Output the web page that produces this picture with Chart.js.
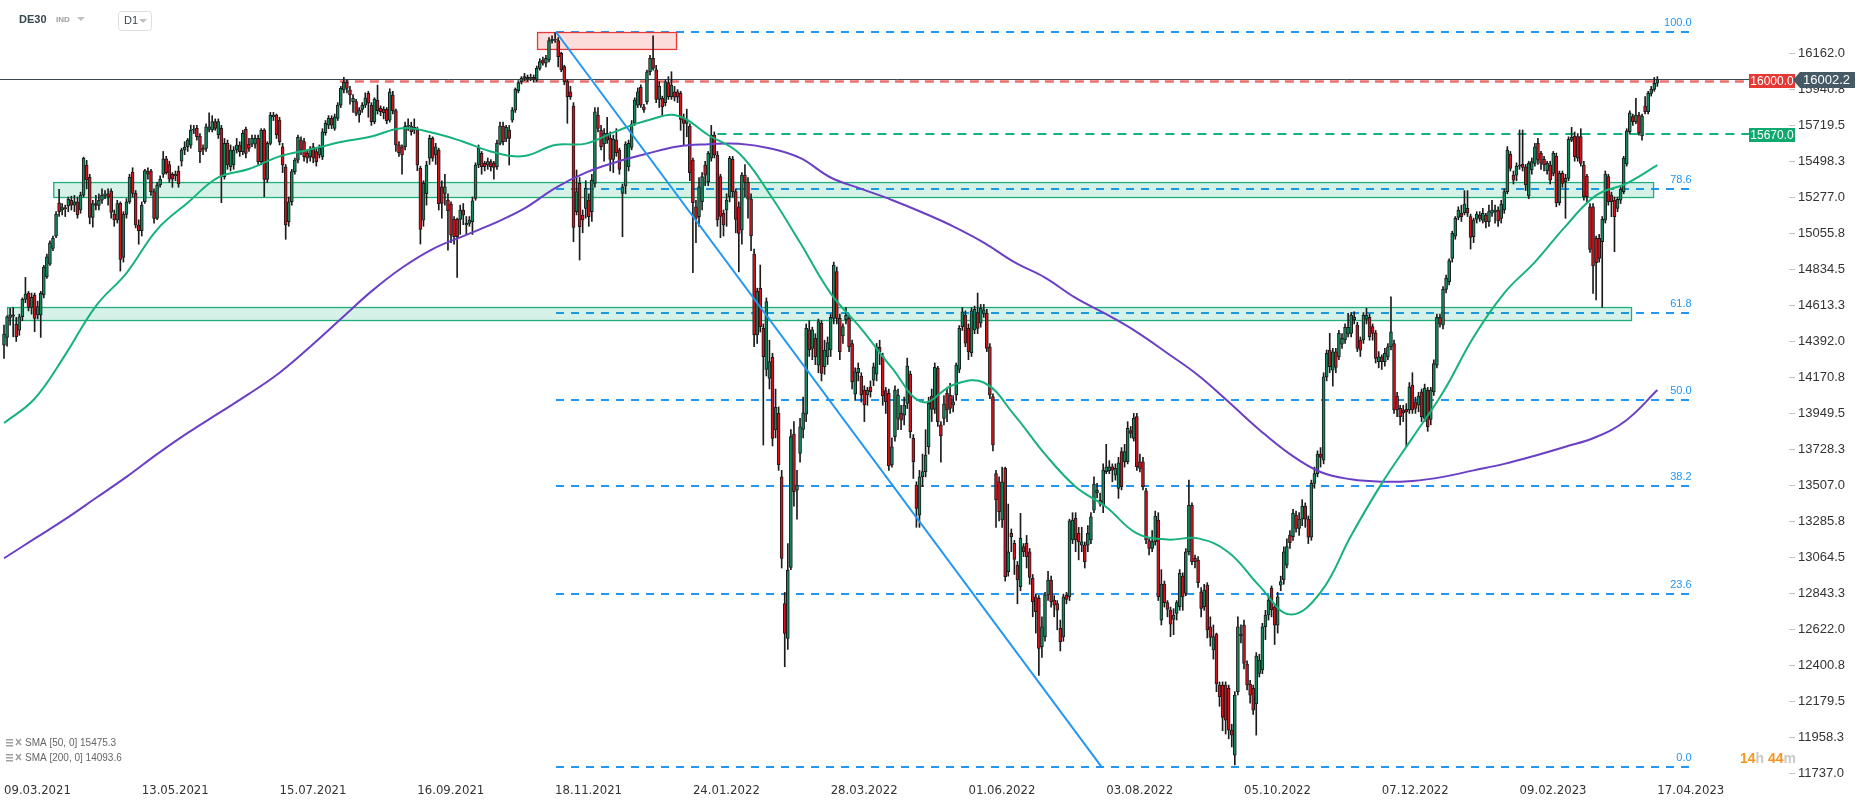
<!DOCTYPE html>
<html>
<head>
<meta charset="utf-8">
<script src="https://cdn.jsdelivr.net/npm/chart.js@4.4.0/dist/chart.umd.min.js"></script>
<style>
  html, body { margin: 0; padding: 0; background: #fff; }
  #wrap { position: relative; width: 1866px; height: 805px; }
</style>
</head>
<body>
<div id="wrap"><canvas id="myChart"></canvas></div>
<script>
// x axis labels, one every 45 sessions
const tickLabels = ["09.03.2021", "13.05.2021", "15.07.2021", "16.09.2021", "18.11.2021", "24.01.2022",
  "28.03.2022", "01.06.2022", "03.08.2022", "05.10.2022", "07.12.2022", "09.02.2023", "17.04.2023"];
const tickIdx = [0, 45, 90, 135, 180, 225, 270, 315, 360, 405, 450, 495, 540];

// price axis labels
const yTicks = [11737.0, 11958.3, 12179.5, 12400.8, 12622.0, 12843.3, 13064.5, 13285.8, 13507.0, 13728.3,
  13949.5, 14170.8, 14392.0, 14613.3, 14834.5, 15055.8, 15277.0, 15498.3, 15719.5, 15940.8, 16162.0];

// daily candles DE30 (D1)
const opens = [
  14370,14417,14540,14556,14497,14462,14544,14651,14688,14602,
  14678,14555,14555,14678,14790,14868,14964,15040,15245,15200,
  15215,15225,15260,15230,15251,15200,15292,15477,15401,15155,
  15240,15228,15260,15290,15300,15317,15175,15139,15241,14909,
  15173,15251,15432,15302,15108,15073,15251,15440,15440,15313,
  15149,15354,15420,15515,15480,15420,15410,15440,15500,15569,
  15590,15599,15692,15702,15655,15569,15579,15696,15692,15743,
  15661,15702,15405,15610,15466,15477,15569,15599,15559,15696,
  15604,15604,15604,15640,15497,15692,15388,15610,15774,15784,
  15753,15589,15466,15128,15251,15436,15507,15630,15620,15548,
  15528,15589,15559,15538,15528,15675,15722,15763,15702,15763,
  15845,15938,15985,15938,15866,15866,15784,15819,15845,15917,
  15845,15743,15876,15825,15819,15819,15753,15907,15811,15600,
  15589,15589,15716,15716,15692,15692,15456,15138,15300,15518,
  15640,15538,15569,15343,15302,15261,15237,15143,15143,15143,
  15200,15108,15118,15128,15272,15477,15548,15487,15477,15497,
  15487,15466,15610,15716,15640,15692,15753,15815,15934,15989,
  16009,16016,16009,16016,16003,16071,16122,16102,16122,16241,
  16249,16241,16163,16081,15989,15927,15839,15190,15364,15169,
  15210,15261,15190,15364,15784,15692,15606,15671,15641,15511,
  15630,15569,15302,15348,15466,15585,15733,15845,15954,15835,
  15866,16050,16132,16061,15880,15886,15860,15983,15897,15927,
  15927,15917,15763,15733,15716,15507,15220,15159,15251,15477,
  15374,15518,15661,15538,15405,15180,15200,15282,15512,15313,
  15220,15077,15415,15370,15267,14930,14432,14719,14473,14221,
  14165,14294,13848,13950,13561,12782,12567,13004,13823,13479,
  13704,13852,13946,14463,14350,14411,14247,14504,14237,14299,
  14340,14534,14821,14534,14426,14524,14534,14380,14069,14200,
  14180,14094,14063,14114,14155,14192,14356,14299,14090,14073,
  13633,13807,13920,13950,13940,14012,14192,13797,13510,13325,
  13561,13592,13745,14057,13975,14227,13880,13920,14073,14063,
  14000,14063,14221,14483,14555,14473,14323,14463,14569,14504,
  14565,14565,14360,14053,13581,13530,13295,13612,12977,13213,
  13151,13018,12885,13131,13151,13100,12936,12823,12813,12516,
  12577,12834,12926,12803,12782,12629,12577,12834,12823,13172,
  13305,13213,13141,13141,13141,13172,13356,13463,13418,13387,
  13592,13598,13622,13571,13489,13715,13653,13653,13844,13797,
  13930,13653,13653,13475,13168,13121,13162,13295,12680,12901,
  12787,12742,12684,12721,12762,12951,12844,13100,13387,13059,
  13049,12854,12762,12895,12639,12496,12594,12281,12281,12281,
  12260,12004,11850,12240,12594,12649,12410,12287,12260,12164,
  12352,12373,12640,12711,12875,12762,12649,12895,12926,13018,
  13203,13192,13326,13243,13300,13380,13300,13190,13520,13580,
  13700,13663,14175,14339,14216,14329,14298,14376,14401,14438,
  14442,14524,14493,14401,14401,14528,14540,14483,14446,14268,
  14298,14268,14298,14360,14380,14057,13981,13971,13975,13971,
  14124,14022,14001,14083,13919,14094,13913,14083,14247,14540,
  14493,14712,14760,14903,15040,15155,15180,15184,15210,15159,
  15036,15143,15169,15138,15169,15128,15180,15190,15200,15149,
  15200,15313,15542,15415,15415,15470,15481,15466,15286,15446,
  15487,15610,15548,15511,15442,15477,15425,15532,15245,15425,
  15374,15395,15630,15655,15651,15651,15477,15409,15220,15220,
  15026,15026,15005,15138,15405,15292,15261,15210,15261,15313,
  15483,15681,15774,15743,15784,15655,15839,15804,15917,15942,
  15979];
const highs = [
  14493,14550,14596,14600,14540,14560,14660,14786,14700,14690,
  14690,14640,14700,14860,14930,15010,15040,15190,15327,15240,
  15230,15280,15285,15290,15280,15310,15525,15505,15420,15260,
  15290,15300,15330,15320,15330,15330,15200,15260,15250,15190,
  15270,15420,15460,15320,15140,15250,15450,15460,15450,15330,
  15370,15410,15560,15530,15500,15430,15440,15470,15580,15620,
  15640,15722,15720,15720,15670,15600,15730,15798,15780,15760,
  15760,15720,15640,15630,15600,15590,15640,15620,15690,15710,
  15640,15660,15660,15660,15700,15700,15620,15800,15800,15790,
  15770,15610,15480,15280,15450,15520,15660,15650,15640,15570,
  15590,15610,15580,15600,15700,15750,15780,15780,15790,15860,
  15960,16015,16000,15960,15910,15880,15830,15860,15920,15930,
  15860,15890,15968,15840,15835,15830,15945,15930,15820,15620,
  15600,15740,15760,15740,15760,15710,15470,15380,15500,15660,
  15650,15610,15580,15380,15420,15300,15250,15160,15150,15230,
  15240,15160,15160,15280,15490,15600,15560,15500,15520,15510,
  15500,15630,15740,15740,15720,15720,15830,15950,15995,16020,
  16040,16030,16035,16030,16085,16130,16140,16150,16260,16270,
  16290,16260,16170,16090,16000,15960,15860,15446,15400,15200,
  15380,15300,15420,15830,15830,15720,15700,15770,15680,15660,
  15700,15580,15360,15620,15630,15750,15890,15950,15970,15850,
  16060,16150,16270,16090,15990,15900,16000,16020,16050,15960,
  15940,15930,15790,15820,15730,15520,15260,15400,15430,15500,
  15560,15720,15680,15560,15420,15200,15300,15530,15530,15330,
  15250,15430,15480,15400,15300,14960,14720,14862,14500,14660,
  14400,14320,14100,13990,13600,12850,13150,13850,13900,13600,
  13920,14050,14500,14520,14480,14440,14530,14520,14400,14420,
  14560,14880,14850,14560,14500,14600,14560,14400,14230,14260,
  14200,14120,14110,14150,14260,14380,14400,14320,14110,14100,
  13800,14120,14100,14000,14050,14290,14210,13820,13530,13600,
  13700,13850,14050,14100,14260,14240,13900,14060,14100,14135,
  14060,14260,14490,14600,14580,14500,14600,14610,14690,14620,
  14620,14590,14380,14070,13600,13560,13620,13620,13393,13240,
  13170,13040,13336,13150,13200,13120,12960,12840,12830,12700,
  12850,12980,12950,12830,12800,12680,12840,12850,13300,13340,
  13340,13250,13250,13160,13260,13340,13560,13520,13460,13640,
  13760,13660,13640,13640,13680,13740,13760,13899,13870,13950,
  13950,13700,13680,13490,13180,13230,13350,13340,12990,12920,
  12800,12760,12750,12800,12990,12970,13120,13541,13400,13080,
  13070,12880,12900,12910,12700,12650,12600,12300,12300,12300,
  12280,12040,12240,12700,12650,12680,12430,12310,12280,12480,
  12470,12660,12740,12830,12890,12780,12850,12950,13130,13180,
  13230,13360,13350,13340,13420,13400,13320,13540,13620,13720,
  13740,14200,14340,14442,14350,14350,14460,14440,14500,14565,
  14570,14575,14510,14420,14570,14596,14560,14500,14460,14330,
  14310,14350,14380,14667,14400,14080,14000,14000,14010,14140,
  14200,14050,14080,14100,14130,14110,14110,14280,14560,14560,
  14730,14800,14900,15070,15160,15220,15230,15319,15319,15175,
  15150,15190,15190,15210,15180,15230,15260,15230,15220,15260,
  15330,15590,15560,15440,15490,15692,15692,15480,15500,15520,
  15610,15640,15560,15530,15500,15500,15560,15550,15440,15440,
  15420,15650,15708,15680,15670,15700,15500,15420,15240,15240,
  15040,15050,15160,15440,15420,15310,15280,15280,15340,15530,
  15700,15810,15790,15886,15800,15790,15897,15930,15960,16015,
  16020];
const lows = [
  14288,14364,14493,14421,14392,14430,14520,14630,14580,14560,
  14452,14530,14417,14660,14780,14860,14950,15030,15160,15170,
  15160,15190,15200,15190,15150,15180,15280,15330,15115,15095,
  15200,15200,15240,15270,15230,15150,15100,15120,14825,14880,
  15150,15240,15280,15090,14990,15040,15240,15390,15290,15120,
  15140,15340,15400,15420,15370,15340,15380,15340,15470,15540,
  15560,15580,15670,15630,15491,15540,15560,15680,15680,15690,
  15640,15245,15390,15450,15440,15450,15550,15530,15540,15520,
  15560,15590,15580,15480,15480,15282,15370,15600,15750,15640,
  15600,15430,15020,15100,15230,15420,15490,15540,15500,15490,
  15500,15490,15470,15520,15510,15660,15700,15700,15690,15750,
  15830,15920,15920,15850,15800,15780,15740,15800,15830,15770,
  15720,15730,15790,15780,15760,15730,15740,15790,15560,15530,
  15420,15570,15690,15660,15670,15442,14991,15100,15230,15480,
  15500,15480,15200,15150,15230,14954,15000,14990,14786,15050,
  15110,15050,15100,15050,15260,15460,15420,15440,15450,15440,
  15390,15450,15600,15600,15620,15477,15740,15800,15920,15975,
  15995,15990,15995,15985,15990,16060,16090,16080,16110,16225,
  16230,16080,16050,15970,15733,15880,15005,15170,14893,15060,
  15150,15100,15130,15340,15680,15570,15500,15610,15440,15430,
  15530,15420,15036,15300,15440,15570,15720,15830,15830,15800,
  15850,16030,16060,15860,15830,15780,15840,15880,15880,15870,
  15860,15690,15600,15650,15380,14815,15000,15100,15200,15350,
  15350,15500,15520,15100,15030,15040,15100,15250,15280,15060,
  14820,14990,15280,15150,14950,14360,14380,14450,13756,14180,
  14100,13750,13800,13600,13000,12393,12500,12990,13380,13300,
  13650,13800,13900,14300,14280,14250,14200,14150,14190,14250,
  14300,14500,14500,14280,14380,14500,14330,14100,14030,14150,
  14020,13900,14000,14050,14120,14150,14250,14000,13950,13600,
  13620,13780,13850,13850,13880,13980,13800,13550,13250,13250,
  13500,13560,13700,13900,13950,13870,13650,13880,13900,13950,
  13960,14030,14200,14460,14360,14280,14300,14440,14440,14480,
  14540,14330,14040,13720,13250,13290,13250,12920,12950,13100,
  12960,12780,12860,13070,13000,12900,12700,12600,12340,12450,
  12550,12800,12760,12700,12620,12490,12550,12780,12800,13150,
  13100,13050,13100,13000,13100,13150,13340,13430,13380,13340,
  13580,13580,13530,13540,13428,13480,13620,13640,13800,13780,
  13600,13590,13480,13150,13080,13100,13140,12800,12650,12760,
  12700,12578,12590,12680,12740,12740,12830,13080,13020,13000,
  12880,12700,12740,12570,12520,12440,12240,12150,12000,11980,
  11950,11900,11790,12220,12540,12380,12250,12170,12100,11973,
  12330,12350,12560,12680,12700,12530,12600,12860,12900,13000,
  13120,13170,13220,13200,13260,13250,13150,13170,13490,13560,
  13620,13640,14150,14200,14118,14200,14280,14350,14380,14420,
  14420,14500,14330,14300,14380,14500,14400,14400,14260,14230,
  14220,14240,14280,14340,13950,13930,13880,13900,13745,13950,
  13950,13950,13960,13900,13900,13840,13880,14060,14230,14480,
  14470,14690,14740,14880,15020,15140,15130,15170,15160,14960,
  15000,15120,15130,15120,15090,15100,15160,15120,15100,15120,
  15180,15300,15440,15360,15380,15450,15440,15320,15270,15420,
  15470,15480,15450,15440,15420,15360,15410,15220,15230,15340,
  15149,15380,15620,15500,15500,15470,15260,15250,14940,14688,
  14647,14880,14602,15120,15230,15159,14944,15190,15240,15300,
  15470,15670,15720,15730,15660,15630,15790,15790,15900,15930,
  15960];
const closes = [
  14438,14544,14556,14548,14421,14544,14651,14684,14602,14663,
  14534,14606,14688,14848,14913,14999,15026,15175,15190,15215,
  15208,15265,15230,15250,15170,15292,15517,15385,15155,15240,
  15228,15260,15290,15300,15280,15186,15139,15240,14897,15173,
  15251,15401,15302,15108,15073,15230,15442,15420,15313,15149,
  15354,15390,15515,15430,15390,15390,15420,15360,15569,15585,
  15630,15692,15696,15651,15559,15579,15712,15712,15743,15702,
  15743,15405,15610,15477,15569,15569,15599,15559,15671,15548,
  15579,15640,15640,15497,15692,15388,15610,15784,15784,15661,
  15620,15477,15108,15251,15436,15507,15647,15569,15528,15518,
  15569,15518,15497,15579,15681,15733,15763,15722,15773,15845,
  15948,15985,15948,15907,15886,15794,15815,15845,15890,15856,
  15743,15882,15811,15804,15798,15749,15927,15811,15600,15552,
  15538,15716,15722,15682,15708,15477,15081,15364,15477,15640,
  15518,15589,15237,15241,15343,15196,15046,15036,15036,15200,
  15169,15118,15139,15257,15477,15579,15466,15466,15497,15466,
  15462,15610,15716,15620,15708,15640,15815,15942,15983,16009,
  16020,16003,16016,16003,16071,16112,16102,16132,16241,16249,
  16245,16143,16061,15989,15897,15897,15093,15313,15098,15139,
  15333,15159,15384,15804,15702,15589,15671,15630,15511,15634,
  15552,15450,15343,15606,15610,15729,15876,15927,15845,15815,
  16050,16132,16071,15880,15960,15835,15989,15897,15968,15893,
  15893,15757,15733,15753,15430,15245,15149,15343,15405,15415,
  15548,15661,15538,15139,15160,15108,15261,15518,15313,15143,
  15057,15415,15370,15267,15042,14432,14700,14483,14299,14637,
  14268,13797,13987,13633,13059,12598,12987,13807,13469,13510,
  13868,13954,14473,14340,14463,14299,14514,14196,14340,14385,
  14540,14862,14534,14329,14483,14555,14360,14145,14206,14227,
  14063,14002,14094,14084,14237,14360,14329,14057,14022,13627,
  13745,14094,14063,13909,14002,14241,13838,13653,13366,13561,
  13592,13694,14012,13975,14233,13900,13811,14008,13971,13981,
  14022,14247,14473,14575,14381,14329,14581,14590,14473,14596,
  14586,14350,14063,13756,13418,13346,13530,12946,13100,13192,
  13053,12926,13182,13100,13069,12942,12793,12731,12506,12639,
  12834,12926,12793,12772,12741,12547,12823,12807,13290,13295,
  13172,13161,13161,13039,13213,13315,13516,13477,13397,13602,
  13622,13622,13602,13612,13647,13500,13715,13858,13827,13920,
  13623,13612,13500,13172,13121,13162,13319,12823,12901,12787,
  12746,12655,12711,12787,12967,12823,13100,13387,13039,13039,
  12910,12752,12864,12619,12573,12578,12287,12209,12082,12065,
  12004,11973,12219,12639,12582,12414,12281,12219,12127,12459,
  12434,12639,12711,12803,12742,12649,12823,12916,13100,13131,
  13155,13336,13243,13300,13380,13300,13190,13520,13580,13700,
  13680,14175,14319,14237,14329,14233,14442,14411,14479,14479,
  14555,14540,14350,14339,14555,14555,14422,14442,14288,14298,
  14268,14319,14360,14452,13971,13971,13930,13954,13960,14114,
  13971,13981,14057,13930,14104,13868,14094,14257,14540,14499,
  14712,14780,14889,15057,15149,15200,15159,15237,15180,15032,
  15139,15175,15149,15180,15128,15190,15200,15200,15134,15237,
  15313,15569,15456,15384,15470,15477,15462,15354,15487,15497,
  15589,15507,15487,15477,15487,15384,15548,15245,15425,15364,
  15395,15634,15647,15528,15518,15487,15282,15282,14958,14856,
  14876,14903,15143,15421,15251,15251,15159,15266,15327,15518,
  15686,15797,15743,15784,15675,15778,15804,15917,15942,15979,
  16002];

// moving averages read every 10 sessions
const smaIdx = [0,10,20,30,40,50,60,70,80,90,100,110,120,130,140,150,160,170,180,190,200,210,220,230,240,250,
  260,270,280,290,300,310,320,330,340,350,360,370,380,390,400,410,420,430,440,450,460,470,480,490,500,510,520,530,540];
const sma50 = [13891,14040,14310,14610,14813,15080,15245,15400,15452,15530,15572,15618,15652,15703,15675,15620,15555,
  15532,15600,15608,15685,15750,15780,15661,15550,15300,15000,14688,14470,14230,14020,14125,14140,13940,13700,13500,
  13375,13213,13175,13182,13095,12890,12715,12850,13200,13520,13800,14080,14420,14690,14880,15100,15290,15364,15475.3];
const sma200 = [13060,13180,13300,13430,13560,13700,13830,13950,14070,14200,14360,14530,14700,14845,14960,15040,15118,
  15210,15335,15430,15495,15546,15590,15604,15608,15580,15520,15400,15330,15262,15185,15100,15000,14880,14785,14660,
  14560,14450,14320,14185,14020,13850,13700,13590,13545,13530,13535,13560,13600,13640,13690,13745,13805,13910,14093.6];

// drawn levels
const fibHigh = 16294, fibLow = 11775;
const fibRatios = [0, 23.6, 38.2, 50, 61.8, 78.6, 100];
const lastPrice = 16002.2;
const resistance = 16000.0;
const support = 15670.0;
const zoneUpper = [15280, 15372];
const zoneLower = [14524, 14604];
const topZone = [16190, 16294];

// ====================================

const N = closes.length;
const slots = 584;
const labels = new Array(slots).fill('');
tickIdx.forEach((k, j) => { labels[k] = tickLabels[j]; });

const bodies = opens.map((o, i) => [o, closes[i]]);
const wicks = lows.map((l, i) => [Math.min(l, opens[i], closes[i]), Math.max(highs[i], opens[i], closes[i])]);
const bodyColors = opens.map((o, i) => (closes[i] >= o ? '#118a5b' : '#d4121d'));

const s50 = new Array(N).fill(null);
const s200 = new Array(N).fill(null);
smaIdx.forEach((k, j) => { s50[k] = sma50[j]; s200[k] = sma200[j]; });

const overlay = {
  id: 'overlay',
  beforeDatasetsDraw(chart) {
    const { ctx, chartArea: a, scales: { x, y } } = chart;
    const X = (i) => x.getPixelForValue(i);
    const Y = (v) => y.getPixelForValue(v);
    ctx.save();

    const box = (i0, i1, lo, hi, fill, stroke) => {
      const x0 = X(i0), x1 = X(i1), y0 = Y(hi), y1 = Y(lo);
      ctx.fillStyle = fill;
      ctx.fillRect(x0, y0, x1 - x0, y1 - y0);
      ctx.strokeStyle = stroke;
      ctx.lineWidth = 1.3;
      ctx.strokeRect(x0 + 0.5, y0 + 0.5, x1 - x0, y1 - y0);
    };
    const hline = (x0, x1, yy, color, w, dash) => {
      ctx.beginPath();
      ctx.setLineDash(dash);
      ctx.strokeStyle = color;
      ctx.lineWidth = w;
      ctx.moveTo(x0, yy);
      ctx.lineTo(x1, yy);
      ctx.stroke();
      ctx.setLineDash([]);
    };

    // fibonacci levels
    fibRatios.forEach((r) => {
      const lvl = fibLow + (fibHigh - fibLow) * r / 100;
      hline(X(180.3), X(552.5), Math.round(Y(lvl)), '#2196f3', 2, [8, 7]);
    });

    // support zones
    box(1, 531.4, zoneLower[0], zoneLower[1], 'rgba(0,175,110,0.16)', '#1fae78');
    box(16.1, 538.6, zoneUpper[0], zoneUpper[1], 'rgba(0,175,110,0.16)', '#1fae78');
    box(174.1, 219.5, topZone[0], topZone[1], 'rgba(239,83,80,0.2)', '#e53935');

    // horizontal levels
    const yLast = Math.round(Y(lastPrice)) - 0.5;
    hline(0, a.right + 6, yLast, '#37474f', 1, []);
    hline(X(109.7), a.right - 40, yLast + 2, 'rgba(229,57,53,0.72)', 2.5, [9, 6]);
    hline(X(233), a.right - 40, Math.round(Y(support)), '#17b07a', 2, [9, 7]);
    ctx.restore();
  },
  afterDatasetsDraw(chart) {
    const { ctx, scales: { x, y } } = chart;
    const X = (i) => x.getPixelForValue(i);
    const Y = (v) => y.getPixelForValue(v);
    ctx.save();
    // trend line
    ctx.beginPath();
    ctx.strokeStyle = '#2196f3';
    ctx.lineWidth = 2;
    ctx.moveTo(X(180.3), Y(fibHigh));
    ctx.lineTo(X(358.6), Y(fibLow));
    ctx.stroke();

    // fib labels
    ctx.font = "11px 'Liberation Sans', Arial, sans-serif";
    ctx.fillStyle = '#2196f3';
    ctx.textAlign = 'right';
    ctx.textBaseline = 'alphabetic';
    fibRatios.forEach((r) => {
      const lvl = fibLow + (fibHigh - fibLow) * r / 100;
      ctx.fillText(r.toFixed(1), X(552.5) - 4, Y(lvl) - 6);
    });
    ctx.restore();
  },
  afterDraw(chart) {
    const { ctx, chartArea: a, scales: { y } } = chart;
    const Y = (v) => y.getPixelForValue(v);
    ctx.save();

    const tag = (x0, w, v, bg, txt) => {
      const yc = Math.round(Y(v)) + 1;
      ctx.fillStyle = bg;
      ctx.fillRect(x0, yc - 7, w, 14);
      ctx.fillStyle = '#fff';
      ctx.font = "12px 'Liberation Sans', Arial, sans-serif";
      ctx.textAlign = 'center';
      ctx.textBaseline = 'middle';
      ctx.fillText(txt, x0 + w / 2, yc + 0.5);
    };
    tag(a.right - 40, 46, resistance, '#e53935', resistance.toFixed(1));
    tag(a.right - 40, 46, support, '#0fa86f', support.toFixed(1));

    // last price marker
    const yc = Math.round(Y(lastPrice));
    ctx.fillStyle = '#455a64';
    ctx.beginPath();
    ctx.moveTo(a.right + 4, yc);
    ctx.lineTo(a.right + 11, yc - 8);
    ctx.lineTo(a.right + 66, yc - 8);
    ctx.lineTo(a.right + 66, yc + 8);
    ctx.lineTo(a.right + 11, yc + 8);
    ctx.closePath();
    ctx.fill();
    ctx.fillStyle = '#fff';
    ctx.font = "13px 'Liberation Sans', Arial, sans-serif";
    ctx.textAlign = 'left';
    ctx.textBaseline = 'middle';
    ctx.fillText(lastPrice.toFixed(1), a.right + 14, yc + 0.5);

    // header
    ctx.textBaseline = 'middle';
    ctx.fillStyle = '#37474f';
    ctx.font = "bold 11px 'Liberation Sans', Arial, sans-serif";
    ctx.fillText('DE30', 19, 20);
    ctx.fillStyle = '#9e9e9e';
    ctx.font = "bold 8px 'Liberation Sans', Arial, sans-serif";
    ctx.fillText('IND', 56, 20);
    const caret = (cx, cy) => {
      ctx.fillStyle = '#c0c0c0';
      ctx.beginPath();
      ctx.moveTo(cx - 4, cy - 2);
      ctx.lineTo(cx + 4, cy - 2);
      ctx.lineTo(cx, cy + 2);
      ctx.closePath();
      ctx.fill();
    };
    caret(81, 19);
    ctx.strokeStyle = '#dedede';
    ctx.lineWidth = 1;
    ctx.beginPath();
    ctx.roundRect(118.5, 11.5, 33, 19, 3);
    ctx.stroke();
    ctx.fillStyle = '#37474f';
    ctx.font = "11px 'Liberation Sans', Arial, sans-serif";
    ctx.fillText('D1', 124, 20.5);
    caret(143, 21);

    // indicator legend
    const legendRow = (yy, txt) => {
      ctx.fillStyle = '#a0a0a0';
      for (let k = 0; k < 3; k++) ctx.fillRect(6, yy - 4 + k * 3, 7, 1.5);
      ctx.strokeStyle = '#a0a0a0';
      ctx.lineWidth = 1.6;
      ctx.beginPath();
      ctx.moveTo(16, yy - 4); ctx.lineTo(21, yy + 2);
      ctx.moveTo(21, yy - 4); ctx.lineTo(16, yy + 2);
      ctx.stroke();
      ctx.fillStyle = '#666';
      ctx.font = "10px 'Liberation Sans Narrow', 'Liberation Sans', Arial, sans-serif";
      ctx.textAlign = 'left';
      ctx.fillText(txt, 25, yy);
    };
    legendRow(743, 'SMA [50, 0] ' + sma50[sma50.length - 1].toFixed(1));
    legendRow(758, 'SMA [200, 0] ' + sma200[sma200.length - 1].toFixed(1));

    // candle countdown
    ctx.font = "bold 14px 'Liberation Sans', Arial, sans-serif";
    let cx = 1740;
    [['14', '#f7941d'], ['h', '#c8c8c8'], [' 44', '#f7941d'], ['m', '#c8c8c8']].forEach(([t, c]) => {
      ctx.fillStyle = c;
      ctx.fillText(t, cx, 759);
      cx += ctx.measureText(t).width;
    });
    ctx.restore();
  }
};

const ctx = document.getElementById('myChart');

const chart = new Chart(ctx, {
  type: 'bar',
  data: {
    labels: labels,
    datasets: [
      {
        type: 'line', label: 'SMA 50', data: s50, borderColor: '#16b27a', borderWidth: 2,
        pointRadius: 0, spanGaps: true, tension: 0.4, order: 1
      },
      {
        type: 'line', label: 'SMA 200', data: s200, borderColor: '#6a3fc6', borderWidth: 2,
        pointRadius: 0, spanGaps: true, tension: 0.4, order: 1
      },
      {
        label: 'body', data: bodies, backgroundColor: bodyColors, borderColor: '#1b1b1b', borderWidth: 1,
        borderSkipped: false, barThickness: 3, grouped: false, order: 2, clip: 6
      },
      {
        label: 'wick', data: wicks, backgroundColor: '#1b1b1b', barThickness: 1, grouped: false,
        order: 3, clip: 6
      }
    ]
  },
  options: {
    responsive: true,
    maintainAspectRatio: false,
    animation: false,
    events: [],
    layout: { padding: { left: 4, right: 0, top: 0, bottom: 0 } },
    plugins: { legend: { display: false }, tooltip: { enabled: false } },
    scales: {
      x: {
        type: 'category',
        offset: false,
        grid: { display: false, drawTicks: false },
        border: { display: false },
        ticks: {
          autoSkip: false, maxRotation: 0, minRotation: 0, align: 'start', padding: 3,
          color: '#333',
          font: { family: "'Liberation Sans Narrow', 'DejaVu Sans Condensed', sans-serif", size: 13 }
        },
        afterBuildTicks: (axis) => { axis.ticks = tickIdx.map((v) => ({ value: v })); },
        afterFit: (axis) => { axis.height = 25; axis.paddingLeft = 0; axis.paddingRight = 0; }
      },
      y: {
        position: 'right',
        min: 11697.1,
        max: 16490.8,
        grid: { drawOnChartArea: false, drawTicks: true, tickLength: 6, color: '#c4c4c4' },
        border: { display: false },
        ticks: {
          padding: 3, color: '#333',
          font: { family: "'Liberation Sans', Arial, sans-serif", size: 13 },
          callback: function (value) { return Number(value).toFixed(1); }
        },
        afterBuildTicks: (axis) => { axis.ticks = yTicks.map((v) => ({ value: v })); },
        afterFit: (axis) => { axis.width = 77; axis.paddingTop = 0; axis.paddingBottom = 0; }
      }
    }
  },
  plugins: [overlay]
});
</script>
</body>
</html>
